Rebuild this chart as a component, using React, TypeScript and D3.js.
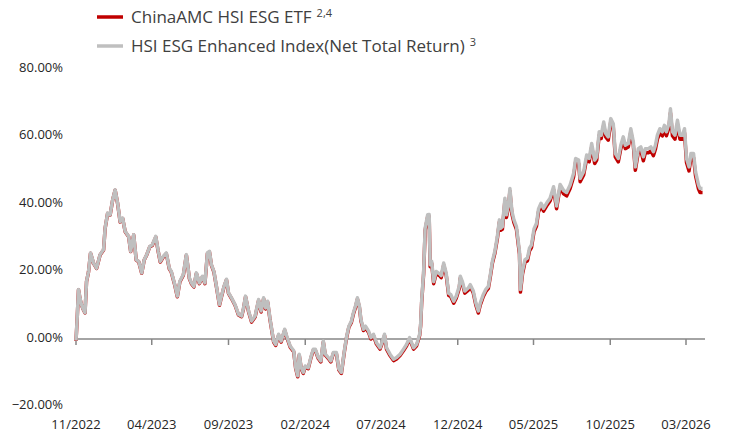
import React from "react";
import * as d3 from "d3";

// Days since launch (2022-11-01) of each observation
const launchDate = new Date(2022, 10, 1);
const tradingDay = [
  0, 2, 5, 8, 11, 14, 18, 21, 25, 29, 35, 41, 48, 55, 58, 63, 68, 73, 78, 83, 88, 93, 98, 105, 109, 115, 120, 125, 131, 136, 141, 147,
  152, 159, 164, 168, 174, 180, 186, 190, 197, 202, 207, 214, 220, 226, 230, 235, 240, 246, 252, 257, 262, 266, 270, 275, 280, 286, 290, 295, 300, 304, 310, 317, 324, 330, 334, 338, 344,
  350, 357, 364, 369, 374, 378, 382, 387, 394, 398, 404, 409, 416, 420, 427, 434, 438, 442, 445, 449, 453, 457, 463, 468, 473, 477, 483, 488, 493, 497, 503, 508, 513, 519, 524, 529, 535, 539, 544,
  549, 553, 557, 561, 565, 568, 573, 577, 583, 588, 593, 599, 606, 611, 615, 619, 626, 633, 639, 646, 653, 659, 665, 673, 679, 685, 687,
  689, 693, 696, 701, 704, 706, 709, 713, 718, 725, 728, 733, 738, 743, 747, 753, 758, 764, 766, 770, 775, 782, 786, 792, 797, 802, 806, 812, 817, 822, 826, 830, 835, 840, 844, 846,
  850, 855, 858, 862, 865, 869, 873, 878, 884, 886, 890, 895, 900, 904, 908, 913, 918, 922, 927, 932, 938, 945, 952, 958, 965,
  972, 978, 985, 992, 996, 1002, 1005, 1012, 1018, 1023, 1028, 1034, 1038, 1043, 1047, 1052, 1056, 1061, 1066, 1071, 1075, 1081, 1086, 1091, 1095, 1101, 1106, 1111, 1115, 1121, 1126,
  1131, 1135, 1141, 1146, 1151, 1155, 1159, 1164, 1169, 1173, 1177, 1182, 1185, 1189, 1194, 1199, 1204, 1209, 1213, 1217, 1222, 1226, 1231, 1235, 1241, 1244, 1249,
];

// HSI ESG Enhanced Index (Net Total Return), cumulative %
const indexReturn = [
  -0.5, 5, 14.7, 12, 10.2, 9, 7.8, 17.1, 20, 25.5, 22.5, 21, 25, 26.5, 32.8, 37.3, 36.8, 41.2, 44.2, 40.2, 34.8, 35.8, 31.9, 30.4, 26, 30.9, 23.5, 23, 19.6, 23.5, 25, 27.4,
  27.9, 30.4, 26, 23, 24.5, 25.5, 21, 20, 16.1, 12.7, 17.1, 19.1, 25, 18.1, 16.6, 15.6, 19.6, 16.6, 18.6, 16.6, 25.5, 26, 22, 20, 15.6, 10.2, 12.7, 15.6, 17.7, 13.7, 12.2, 10.2, 7.3, 6.8, 9.2, 12.7, 8.3,
  5.3, 6.8, 11.7, 8.3, 12.2, 9.2, 11.2, 5.8, -0.6, -1.6, 1.4, -0.6, 2.9, 0.9, -2.1, -3.5, -8.5, -10.9, -4.5, -8.5, -9.9, -8, -8.5, -5.5, -3, -3, -5.5, -6.5, -0.6, -4.5, -5.5, -6.5, -4, -4, -8.9, -9.9, -3.5, 0.4, 3.8,
  5.3, 7.8, 9.7, 12.2, 9.7, 5.8, 2.9, 3.8, 2.4, 0.4, 1.4, -1.1, -2.6, -0.6, 1.4, -2.6, -4.5, -6, -5.5, -4.5, -3, -1.6, 0.4, -2.6, -1.6, 1.4, 4.3,
  11.2, 20, 32.8, 36.8, 36.9, 22, 23, 17, 20, 19.3, 18.8, 22.5, 19.5, 13.5, 13.2, 11.2, 12.7, 15.6, 18.6, 17.1, 14.2, 15.1, 16.1, 14.2, 10.7, 8.3, 10.7, 13.2, 14.7, 15.6, 19.1, 23, 26, 30.4, 35.3, 32.8,
  33.3, 41.7, 36.8, 39.7, 44.6, 37.8, 35.3, 33.3, 26, 14.7, 20, 23.5, 24, 26.9, 27.9, 32.6, 34.3, 38.5, 40.2, 38.7, 40.2, 41.7, 45.1, 39.4, 45.8,
  44, 43.4, 45.6, 49.1, 53.5, 53, 47.6, 49.6, 54.5, 53.5, 57.9, 53, 54, 61.4, 60.4, 64.3, 60.9, 59.9, 65.3, 63.8, 55, 53.5, 57.4, 59.9, 57.4, 57.9, 62.3, 58.4, 51, 56.4, 56.9,
  54, 56.4, 56.4, 56.9, 55.5, 57.4, 60.4, 62.3, 61.4, 63.3, 61.4, 63.8, 68.2, 61.4, 60.4, 64.8, 60.4, 60.4, 62.3, 53.5, 51, 55, 55, 49.6, 45.6, 44.6, 44.6,
];

// ChinaAMC HSI ESG ETF, cumulative %
const etfReturn = [
  -0.6, 4.9, 14.6, 11.9, 10.1, 8.9, 7.7, 17.0, 19.9, 25.4, 22.4, 20.9, 24.9, 26.4, 32.7, 37.2, 36.7, 41.1, 44.1, 40.1, 34.7, 35.7, 31.8, 30.3, 25.9, 30.8, 23.4, 22.9, 19.5, 23.4, 24.9, 27.3,
  27.7, 30.2, 25.8, 22.8, 24.3, 25.3, 20.8, 19.8, 15.9, 12.5, 16.9, 18.9, 24.8, 17.9, 16.4, 15.4, 19.4, 16.4, 18.4, 16.4, 25.3, 25.8, 21.8, 19.8, 15.4, 10.0, 12.5, 15.4, 17.5, 13.5, 12.0, 10.0, 7.1, 6.6, 9.0, 12.5, 8.1,
  5.0, 6.5, 11.4, 8.0, 11.9, 8.9, 10.9, 5.5, -0.9, -1.9, 1.1, -0.9, 2.6, 0.6, -2.4, -3.8, -8.8, -11.2, -4.8, -8.8, -10.2, -8.3, -8.8, -5.8, -3.3, -3.3, -5.8, -6.8, -0.9, -4.8, -5.8, -6.8, -4.3, -4.3, -9.2, -10.2, -3.8, 0.1, 3.5,
  4.9, 7.4, 9.3, 11.8, 9.3, 5.4, 2.5, 3.4, 2.0, 0.0, 1.0, -1.5, -3.0, -1.0, 1.0, -3.0, -4.9, -6.4, -5.9, -4.9, -3.4, -2.0, 0.0, -3.0, -2.0, 1.0, 3.9,
  10.6, 19.4, 32.2, 36.2, 36.3, 21.4, 22.4, 16.4, 19.4, 18.7, 18.2, 21.9, 18.9, 12.9, 12.6, 10.6, 12.1, 15.0, 18.0, 16.5, 13.6, 14.5, 15.5, 13.6, 10.1, 7.7, 10.1, 12.6, 14.1, 15.0, 18.5, 22.4, 25.4, 29.8, 34.7, 32.2,
  32.5, 40.9, 36.0, 38.9, 43.8, 37.0, 34.5, 32.5, 25.2, 13.9, 19.2, 22.7, 23.2, 26.1, 27.1, 31.8, 33.5, 37.7, 39.4, 37.9, 39.4, 40.9, 44.3, 38.6, 45.0,
  43.0, 42.4, 44.6, 48.1, 52.5, 52.0, 46.6, 48.6, 53.5, 52.5, 56.9, 52.0, 53.0, 60.4, 59.4, 63.3, 59.9, 58.9, 64.3, 62.8, 54.0, 52.5, 56.4, 58.9, 56.4, 56.9, 61.3, 57.4, 50.0, 55.4, 55.9,
  52.8, 55.2, 55.2, 55.7, 54.3, 56.2, 59.2, 61.1, 60.2, 62.1, 60.2, 62.6, 67.0, 60.2, 59.2, 63.6, 59.2, 59.2, 61.1, 52.3, 49.8, 53.8, 53.8, 48.4, 44.4, 43.4, 43.4,
];

const xTickMonths = [
  [2022, 10], [2023, 3], [2023, 8], [2024, 1], [2024, 6], [2024, 11], [2025, 4], [2025, 9], [2026, 2],
];
const xTickLabels = ["11/2022", "04/2023", "09/2023", "02/2024", "07/2024", "12/2024", "05/2025", "10/2025", "03/2026"];
const yTicks = [-20, 0, 20, 40, 60, 80];

const seriesNames = ["ChinaAMC HSI ESG ETF", "HSI ESG Enhanced Index(Net Total Return)"];
const seriesNotes = ["2,4", "3"];
const seriesColors = ["#c00000", "#bfbfbf"];

export default function App() {
  const W = 730;
  const H = 434;
  const font = "'Open Sans', 'Noto Sans', sans-serif";

  const x = d3
    .scaleTime()
    .domain([new Date(2022, 10, 1), new Date(2026, 2, 1)])
    .range([76, 686]);
  const y = d3.scaleLinear().domain([-20, 80]).range([406.5, 69]);

  const dates = tradingDay.map((d) => d3.timeDay.offset(launchDate, d));
  const line = d3
    .line<number>()
    .x((_, i) => x(dates[i]))
    .y((v) => y(v));

  const tickDates = xTickMonths.map(([yy, mm]) => new Date(yy, mm, 1));
  const axisY = y(0);

  return (
    <svg
      width={W}
      height={H}
      style={{ position: "absolute", left: 0, top: 0, display: "block", background: "#fff" }}
      fontFamily={font}
    >
      {/* Y labels */}
      {yTicks.map((t) => (
        <text key={t} x={63} y={y(t) + 2.5} textAnchor="end" fontSize={13} fill="#262626">
          {d3.format(".2f")(t) + "%"}
        </text>
      ))}

      {/* X axis */}
      <line x1={76} x2={705} y1={axisY} y2={axisY} stroke="#868686" strokeWidth={1.5} />
      {tickDates.map((d, i) => (
        <g key={i}>
          <line x1={x(d)} x2={x(d)} y1={axisY} y2={axisY + 6} stroke="#868686" strokeWidth={1.5} />
          <text x={x(d)} y={428.5} textAnchor="middle" fontSize={13} fill="#262626">
            {xTickLabels[i]}
          </text>
        </g>
      ))}

      {/* Series */}
      <path d={line(etfReturn) || ""} fill="none" stroke={seriesColors[0]} strokeWidth={3.5} strokeLinejoin="round" />
      <path d={line(indexReturn) || ""} fill="none" stroke={seriesColors[1]} strokeWidth={3.5} strokeLinejoin="round" />

      {/* Legend */}
      {seriesNames.map((name, i) => {
        const cy = 17 + i * 29;
        return (
          <g key={name}>
            <line x1={97} x2={123} y1={cy} y2={cy} stroke={seriesColors[i]} strokeWidth={3.5} />
            <text x={131} y={cy + 6} fontSize={17} fill="#404040">
              {name}
              <tspan dx={5} dy={-6} fontSize={11}>
                {seriesNotes[i]}
              </tspan>
            </text>
          </g>
        );
      })}
    </svg>
  );
}
